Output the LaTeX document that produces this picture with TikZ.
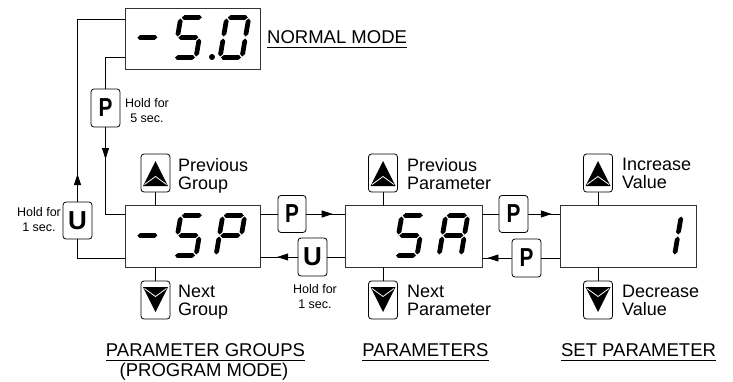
\documentclass[tikz,border=0pt]{standalone}
\usepackage{fontspec}
\usepackage{graphicx}
\setmainfont{Liberation Sans}
\usetikzlibrary{arrows.meta,decorations.markings}

\newcommand\hsegm[3]{\fill (#1,#3) -- ++(2.4,-2.4) -- (#2-2.4,#3-2.4) -- (#2,#3) -- (#2-2.4,#3+2.4) -- (#1+2.4,#3+2.4) -- cycle;}
\newcommand\vsegm[3]{\fill (#1,#2) -- ++(2.4,2.4) -- (#1+2.4,#3-2.4) -- (#1,#3) -- (#1-2.4,#3-2.4) -- (#1-2.4,#2+2.4) -- cycle;}
\newcommand\SegA{\hsegm{1}{21}{-40}}
\newcommand\SegG{\hsegm{1}{21}{-20}}
\newcommand\SegD{\hsegm{1}{21}{0}}
\newcommand\SegF{\vsegm{0}{-39}{-21}}
\newcommand\SegE{\vsegm{0}{-19}{-1}}
\newcommand\SegB{\vsegm{22}{-39}{-21}}
\newcommand\SegC{\vsegm{22}{-19}{-1}}
\newcommand\segdigit[3]{\begin{scope}[shift={(#1,#2)},xslant=0.17]#3\end{scope}}

\newcommand\upicon[1]{%
  \fill ([shift={(0,-12)}]#1.center) -- ([shift={(-12.5,13)}]#1.center) -- ([shift={(12.5,13)}]#1.center) -- cycle;
  \draw[white,line width=0.8pt] ([shift={(-11,11.5)}]#1.center) -- ([shift={(0,3.5)}]#1.center) -- ([shift={(11,11.5)}]#1.center);}
\newcommand\downicon[1]{%
  \fill ([shift={(0,12)}]#1.center) -- ([shift={(-12.5,-13)}]#1.center) -- ([shift={(12.5,-13)}]#1.center) -- cycle;
  \draw[white,line width=0.8pt] ([shift={(-11,-11.5)}]#1.center) -- ([shift={(0,-3.5)}]#1.center) -- ([shift={(11,-11.5)}]#1.center);}

\begin{document}
\begin{tikzpicture}[x=1pt,y=-1pt,
  line/.style={line width=0.8pt},
  display/.style={draw=black!80, line width=0.9pt, minimum height=62pt, inner sep=0pt},
  btn/.style={draw, line width=0.8pt, rounded corners=3pt, minimum width=29pt, minimum height=38pt, inner sep=0pt},
  keyfont/.style={font=\fontsize{26}{26}\selectfont\bfseries},
  small/.style={font=\fontsize{12.5}{15}\selectfont, align=center, inner sep=0pt},
  med/.style={font=\fontsize{18}{18}\selectfont, align=left, inner sep=0pt},
  big/.style={font=\fontsize{18.5}{20}\selectfont, inner sep=0pt},
  midarrow/.style={postaction={decorate}, decoration={markings, mark=at position #1 with {\arrow{Triangle[length=11pt,width=7pt]}}}},
]
\useasboundingbox (0,0) rectangle (733,381);

% displays
\node[display, minimum width=135pt, minimum height=61pt] (nrm) at (192.5,38.5) {};
\node[display, minimum width=135pt] (grp) at (192.5,236) {};
\node[display, minimum width=137pt] (par) at (413.5,236) {};
\node[display, minimum width=136pt] (setp) at (628,236) {};

% digits
\segdigit{133}{57.5}{\SegG}
\segdigit{174}{57.5}{\SegA\SegF\SegG\SegC\SegD}
\fill (212,57) circle (3);
\segdigit{220}{57.5}{\SegA\SegB\SegC\SegD\SegE\SegF}

\segdigit{133}{255.5}{\SegG}
\segdigit{174}{255.5}{\SegA\SegF\SegG\SegC\SegD}
\segdigit{216}{255.5}{\SegA\SegB\SegF\SegG\SegE}

\segdigit{395}{255.5}{\SegA\SegF\SegG\SegC\SegD}
\segdigit{439}{255.5}{\SegA\SegB\SegC\SegE\SegF\SegG}

\segdigit{652.5}{255.5}{\SegB\SegC}

% key buttons
\node[btn, keyfont] (bP1) at (105.5,108) {\scalebox{0.8}[1]{P}};
\node[btn, keyfont, minimum height=37pt] (bUl) at (77.5,220.5) {U};
\node[btn, keyfont, minimum width=28pt, minimum height=37pt] (bP2) at (292,214) {\scalebox{0.8}[1]{P}};
\node[btn, keyfont] (bU2) at (312.5,257) {U};
\node[btn, keyfont, minimum height=37pt] (bP3) at (513.5,214) {\scalebox{0.8}[1]{P}};
\node[btn, keyfont] (bP4) at (526.5,258) {\scalebox{0.8}[1]{P}};

% arrow buttons
\node[btn] (uG) at (155.5,173) {};
\node[btn] (dG) at (155.5,300) {};
\node[btn] (uP) at (383,173) {};
\node[btn] (dP) at (383,300) {};
\node[btn] (uS) at (598,173) {};
\node[btn] (dS) at (598,300) {};
\upicon{uG}\upicon{uP}\upicon{uS}
\downicon{dG}\downicon{dP}\downicon{dS}

% connectors
\draw[line] ([yshift=-18.5pt]nrm.west) -| (bP1.north);
\draw[line, midarrow=0.30] (bP1.south) |- ([yshift=22pt]grp.west);
\draw[line] ([yshift=-22pt]grp.west) -| (bUl.south);
\draw[line, midarrow=0.12] (bUl.north) |- ([yshift=19.5pt]nrm.west);

\draw[line] ([yshift=22pt]grp.east) -- (bP2.west);
\draw[line, midarrow=0.69] (bP2.east) -- ([yshift=22pt]par.west);
\draw[line] ([yshift=-21pt]par.west) -- (bU2.east);
\draw[line, midarrow=0.55] (bU2.west) -- ([yshift=-21pt]grp.east);
\draw[line] ([yshift=22pt]par.east) -- (bP3.west);
\draw[line, midarrow=0.75] (bP3.east) -- ([yshift=22pt]setp.west);
\draw[line] ([yshift=-22pt]setp.west) -- (bP4.east);
\draw[line, midarrow=0.83] (bP4.west) -- ([yshift=-22pt]par.east);

\draw[line] (uG.south) -- (uG.south |- grp.north);
\draw[line] (dG.north) -- (dG.north |- grp.south);
\draw[line] (uP.south) -- (uP.south |- par.north);
\draw[line] (dP.north) -- (dP.north |- par.south);
\draw[line] (uS.south) -- (uS.south |- setp.north);
\draw[line] (dS.north) -- (dS.north |- setp.south);

% texts
\node[small, anchor=north] (h5) at (147,98) {Hold for\\5 sec.};
\node[small, anchor=north] (h1a) at (39,207) {Hold for\\1 sec.};
\node[small, anchor=north] (h1b) at (315,284) {Hold for\\1 sec.};
\node[med, anchor=north west] (tPG) at (178,158) {Previous\\Group};
\node[med, anchor=north west] (tNG) at (178,285) {Next\\Group};
\node[med, anchor=north west] (tPP) at (407,158) {Previous\\Parameter};
\node[med, anchor=north west] (tNP) at (407,285) {Next\\Parameter};
\node[med, anchor=north west] (tIV) at (622,158) {Increase\\Value};
\node[med, anchor=north west] (tDV) at (622,285) {Decrease\\Value};

\node[big, anchor=base] (lPG) at (205.5,356) {PARAMETER GROUPS};
\node[big, anchor=base] (lPM) at (204,376.5) {(PROGRAM MODE)};
\node[big, anchor=base] (lP) at (425.5,356) {PARAMETERS};
\node[big, anchor=base] (lSP) at (638.5,356) {SET PARAMETER};
\node[big, anchor=base west] (lNM) at (267,43) {NORMAL MODE};
\foreach \n in {lPG,lP,lSP,lNM}
  \draw[line] ([yshift=-4.5pt]\n.base west) -- ([yshift=-4.5pt]\n.base east);
\end{tikzpicture}
\end{document}
